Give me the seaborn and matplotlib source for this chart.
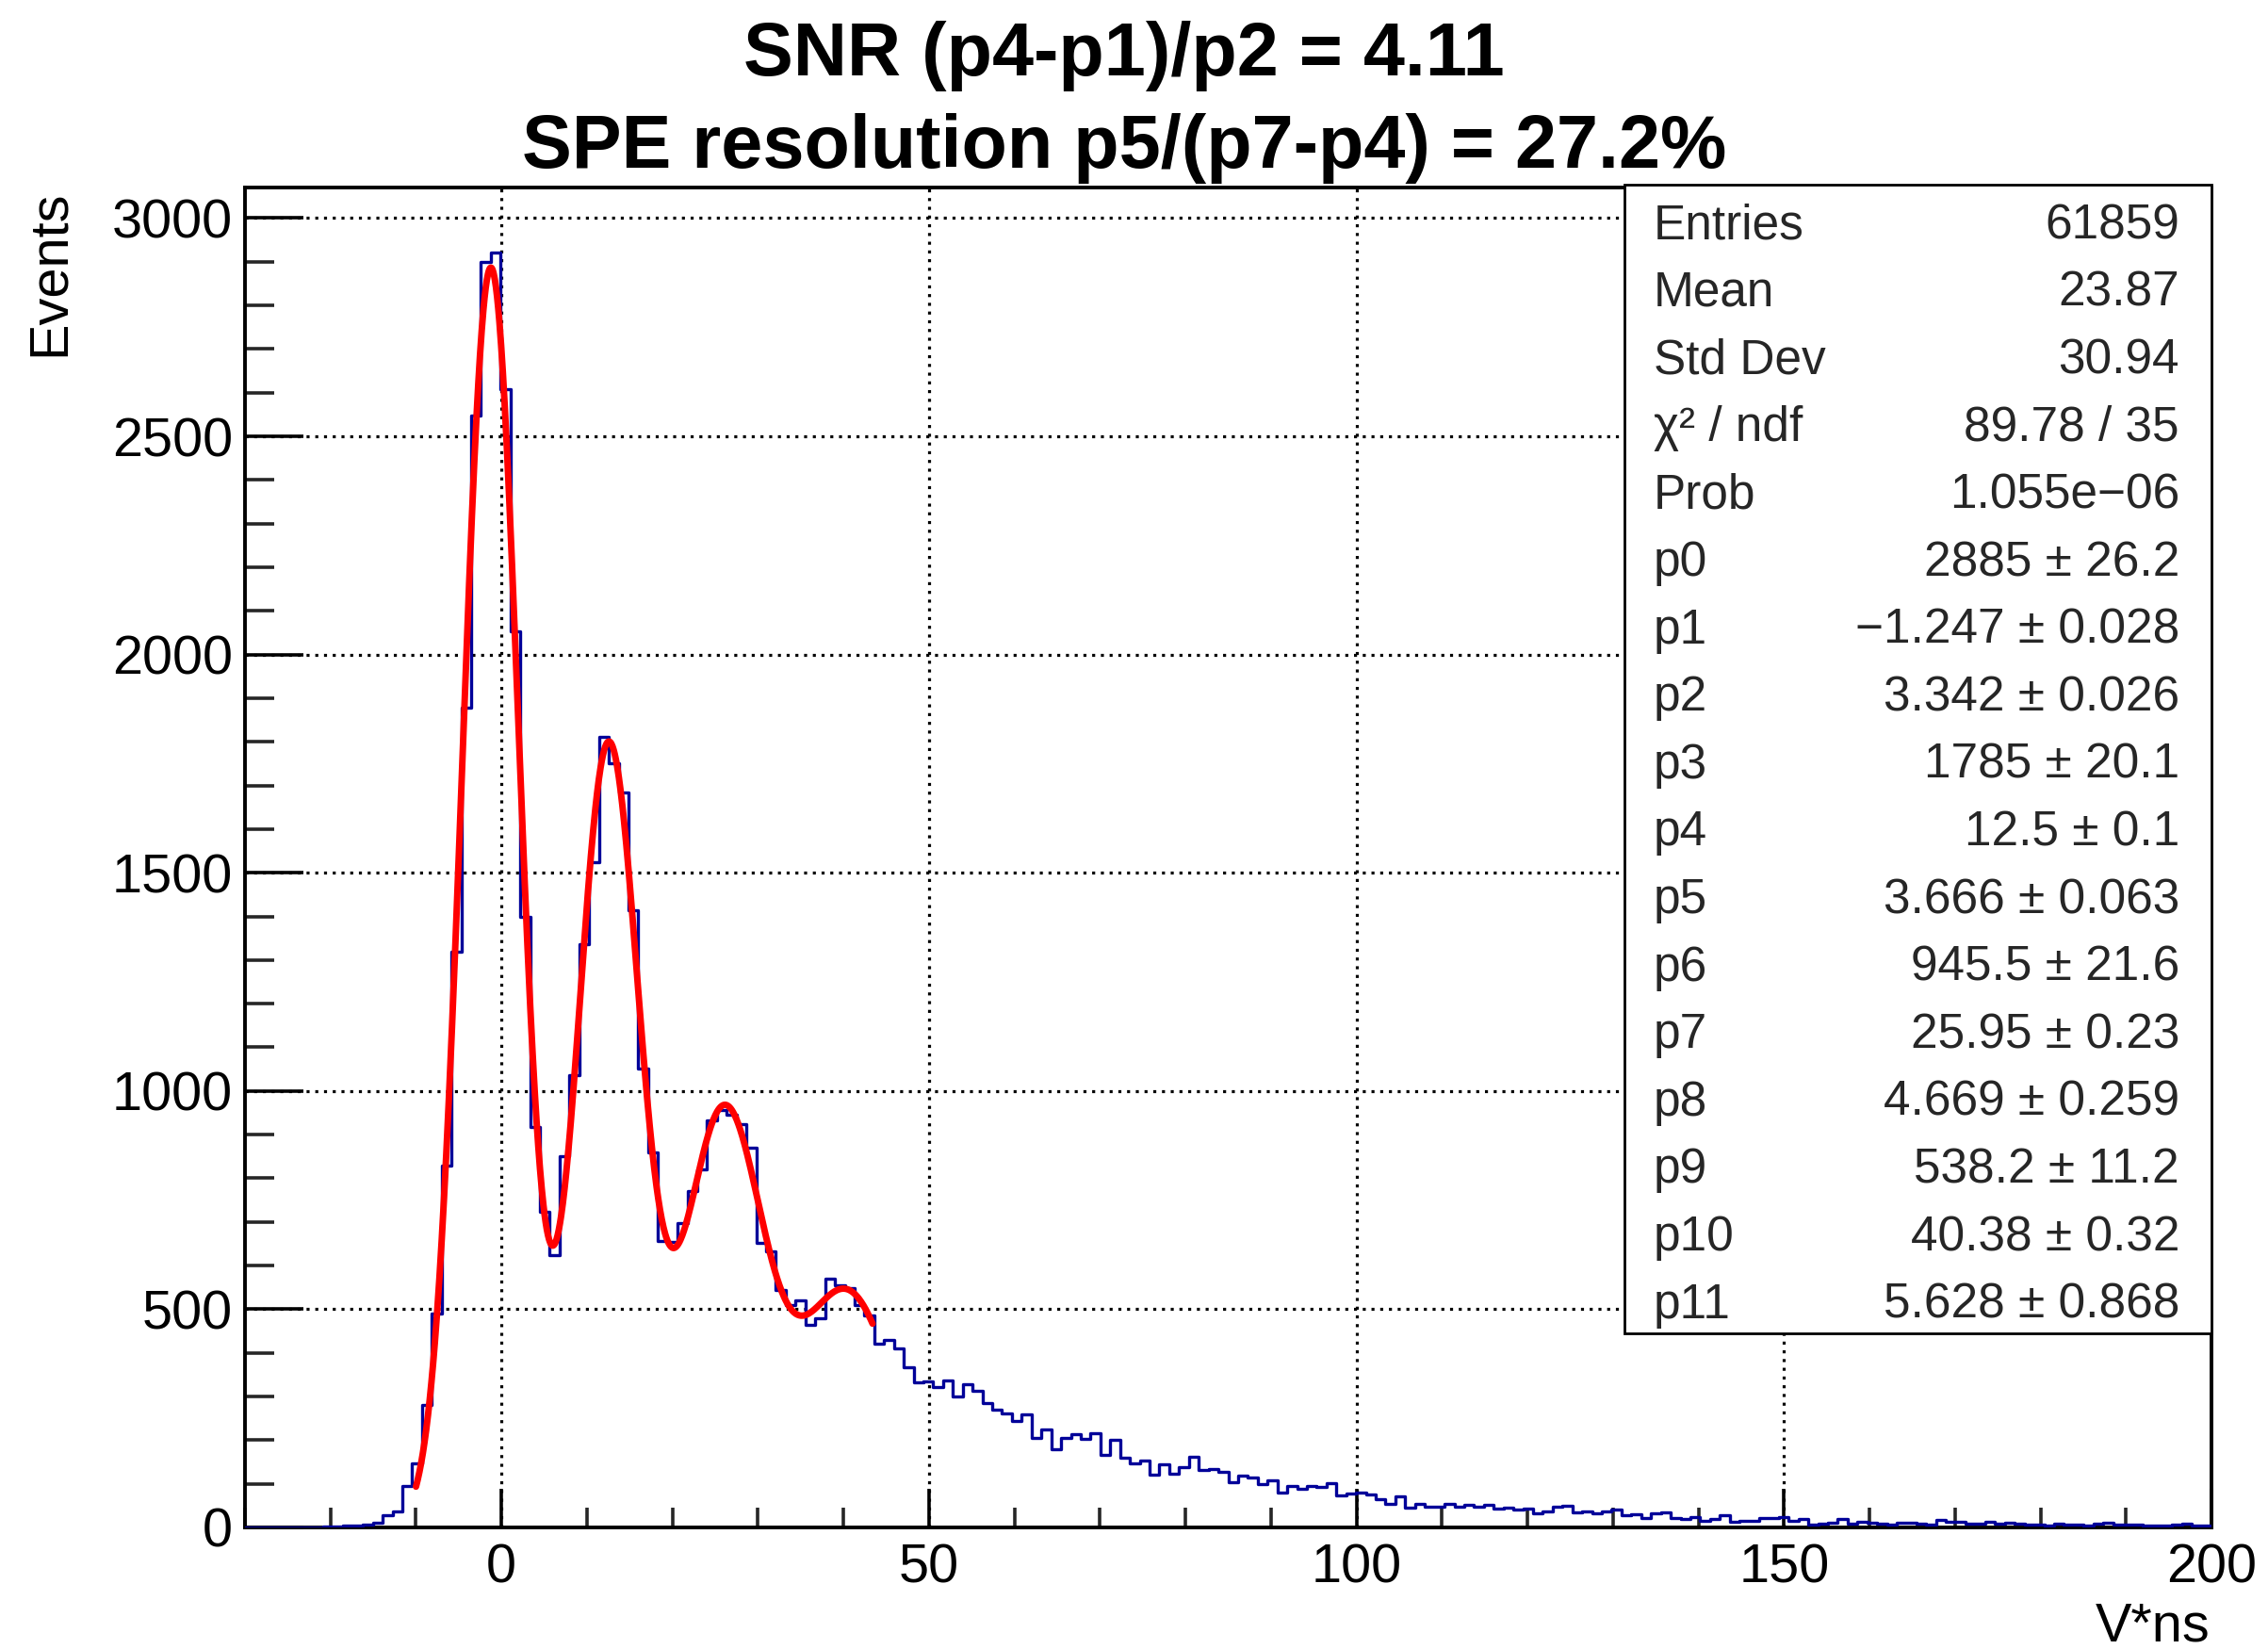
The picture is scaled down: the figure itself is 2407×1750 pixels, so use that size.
import numpy as np
import pandas as pd
import matplotlib
matplotlib.use("Agg")
import matplotlib.pyplot as plt
from matplotlib.patches import Rectangle
from matplotlib.ticker import MultipleLocator, FixedLocator
import seaborn as sns

# ---------------- data ----------------
bin_lo = -30.0
bin_hi = 200.0
n_bins = 200

counts = [
    0, 0, 1, 1, 0, 0, 1, 1, 2, 2,
    5, 5, 7, 10, 28, 37, 94, 147, 280, 489,
    830, 1319, 1879, 2547, 2900, 2922, 2607, 2053, 1400, 917,
    724, 624, 850, 1037, 1336, 1525, 1811, 1751, 1684, 1415,
    1052, 860, 657, 655, 698, 770, 821, 932, 956, 945,
    923, 870, 651, 632, 543, 510, 521, 465, 480, 569,
    554, 548, 509, 485, 420, 429, 410, 366, 333, 334,
    322, 336, 300, 329, 313, 286, 269, 262, 243, 259,
    205, 225, 179, 205, 214, 203, 216, 167, 201, 160,
    146, 153, 120, 144, 124, 138, 162, 131, 133, 128,
    104, 118, 115, 99, 108, 79, 95, 88, 95, 93,
    101, 73, 77, 79, 75, 65, 55, 72, 46, 55,
    48, 48, 54, 48, 52, 47, 52, 43, 46, 41,
    43, 32, 37, 48, 50, 34, 36, 32, 37, 40,
    27, 30, 22, 32, 34, 22, 19, 23, 16, 19,
    27, 14, 16, 16, 22, 22, 23, 16, 19, 7,
    9, 10, 19, 9, 14, 11, 9, 7, 11, 11,
    9, 7, 18, 13, 14, 9, 9, 13, 9, 11,
    9, 6, 6, 5, 9, 6, 6, 5, 9, 10,
    7, 7, 7, 5, 5, 5, 7, 8, 5, 5,
]

# fit parameters p0..p11 (4 gaussians: amplitude, mean, sigma)
fit_params = [2885, -1.247, 3.342, 1785, 12.5, 3.666, 945.5, 25.95, 4.669, 538.2, 40.38, 5.628]
fit_range = (-10.0, 43.4)

title_lines = ["SNR (p4-p1)/p2 = 4.11", "SPE resolution p5/(p7-p4) = 27.2%"]
x_label = "V*ns"
y_label = "Events"
x_major = [0, 50, 100, 150, 200]
y_major = [0, 500, 1000, 1500, 2000, 2500, 3000]

stats_labels = ["Entries", "Mean", "Std Dev", "χ² / ndf", "Prob",
                "p0", "p1", "p2", "p3", "p4", "p5", "p6", "p7", "p8", "p9", "p10", "p11"]
stats_values = ["61859", "23.87", "30.94", "89.78 / 35", "1.055e\u221206",
                "2885 ± 26.2", "\u22121.247 ± 0.028", "3.342 ± 0.026", "1785 ± 20.1",
                "12.5 ± 0.1", "3.666 ± 0.063", "945.5 ± 21.6", "25.95 ± 0.23",
                "4.669 ± 0.259", "538.2 ± 11.2", "40.38 ± 0.32", "5.628 ± 0.868"]

# ---------------- style ----------------
sns.set_theme(style="white")
plt.rcParams["font.family"] = ["Liberation Sans", "DejaVu Sans"]

W, H = 2407, 1750
DPI = 100
fig = plt.figure(figsize=(W / DPI, H / DPI), dpi=DPI)
fig.patch.set_facecolor("white")

ax_l, ax_r, ax_t, ax_b = 260, 2347, 199, 1621  # pixel frame
ax = fig.add_axes([ax_l / W, 1 - ax_b / H, (ax_r - ax_l) / W, (ax_b - ax_t) / H])
ax.set_facecolor("white")

edges = [bin_lo + (bin_hi - bin_lo) * k / n_bins for k in range(n_bins + 1)]
centers = [0.5 * (edges[k] + edges[k + 1]) for k in range(n_bins)]
df = pd.DataFrame({"x": centers, "w": counts})

sns.histplot(data=df, x="x", weights="w", bins=edges, element="step", fill=False,
             color="#000099", linewidth=2.4, ax=ax, zorder=3)

p = fit_params
xf = np.linspace(fit_range[0], fit_range[1], 800)
yf = np.zeros_like(xf)
for i in range(0, 12, 3):
    yf += p[i] * np.exp(-0.5 * ((xf - p[i + 1]) / p[i + 2]) ** 2)
sns.lineplot(x=xf, y=yf, color="#ff0000", linewidth=5.0, ax=ax, estimator=None,
             sort=False, zorder=4)

ax.set_xlim(bin_lo, bin_hi)
ax.set_ylim(0, 3070)
ax.set_xlabel("")
ax.set_ylabel("")

ax.xaxis.set_major_locator(FixedLocator(x_major))
ax.xaxis.set_minor_locator(MultipleLocator(10))
ax.yaxis.set_major_locator(FixedLocator(y_major))
ax.yaxis.set_minor_locator(MultipleLocator(100))
ax.set_xticklabels([str(v) for v in x_major])
ax.set_yticklabels([str(v) for v in y_major])

for s in ["left", "bottom", "right", "top"]:
    ax.spines[s].set_visible(True)
    ax.spines[s].set_color("black")
    ax.spines[s].set_linewidth(2.8)

ax.tick_params(axis="x", which="major", direction="in", length=29.5, width=2.6,
               labelsize=41.5, pad=12, colors="black", bottom=True, top=False)
ax.tick_params(axis="x", which="minor", direction="in", length=15, width=2.6,
               bottom=True, top=False)
ax.tick_params(axis="y", which="major", direction="in", length=44.5, width=2.6,
               labelsize=41.5, pad=9.4, colors="black", left=True, right=False)
ax.tick_params(axis="y", which="minor", direction="in", length=22, width=2.6,
               left=True, right=False)

ax.grid(True, which="major", color="black", linestyle=(0, (1, 1.9)), linewidth=2.3)
ax.grid(False, which="minor")
ax.set_axisbelow(True)

# titles
fig.text(1193 / W, 1 - 80 / H, title_lines[0], ha="center", va="baseline",
         fontsize=57, fontweight="bold", color="black")
fig.text(1193 / W, 1 - 178 / H, title_lines[1], ha="center", va="baseline",
         fontsize=57, fontweight="bold", color="black")

# axis titles
fig.text(68 / W, 1 - 202 / H, y_label, rotation=90, rotation_mode="anchor",
         ha="right", va="baseline", fontsize=41.5, color="black")
fig.text(2345 / W, 1 - 1742 / H, x_label, ha="right", va="baseline",
         fontsize=41.5, color="black")

# stats box
bx_l, bx_r, bx_t, bx_b = 1724, 2347, 196, 1415
box = Rectangle((bx_l / W, 1 - bx_b / H), (bx_r - bx_l) / W, (bx_b - bx_t) / H,
                transform=fig.transFigure, facecolor="white", edgecolor="black",
                linewidth=2.0, zorder=10)
fig.patches.append(box)
for i, (lab, val) in enumerate(zip(stats_labels, stats_values)):
    yb = 1 - (253 + 71.6 * i) / H
    fig.text(1755 / W, yb, lab, ha="left", va="baseline", fontsize=37, zorder=11)
    fig.text(2313 / W, yb, val, ha="right", va="baseline", fontsize=37, zorder=11)

fig.savefig("out.png", dpi=DPI, facecolor="white")
